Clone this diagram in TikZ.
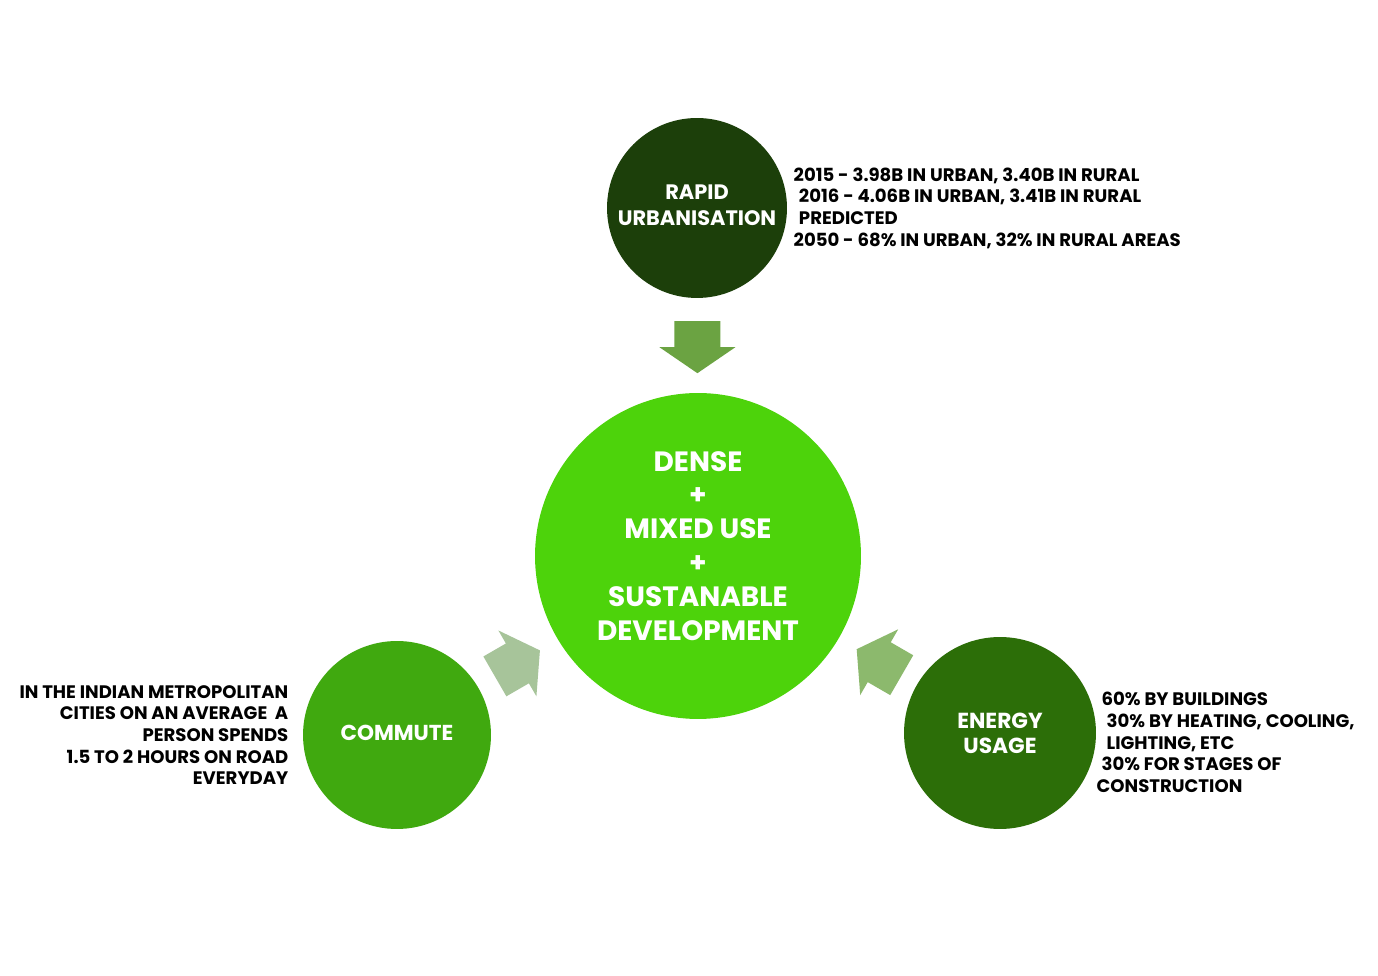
\documentclass[tikz,border=0pt]{standalone}
\usepackage{fontspec}
\setmainfont{Poppins}
\usetikzlibrary{positioning,calc}
\definecolor{UrbDark}{RGB}{28,63,10}
\definecolor{HubGreen}{RGB}{77,211,11}
\definecolor{CommGreen}{RGB}{64,169,15}
\definecolor{EnerGreen}{RGB}{44,110,8}
\definecolor{ArrMid}{RGB}{107,163,66}
\definecolor{ArrPale}{RGB}{167,196,154}
\definecolor{ArrSoft}{RGB}{140,185,109}
\tikzset{
  bubble/.style={circle,inner sep=0pt,text=white,align=center},
  note/.style={inner sep=0pt,font=\bfseries\fontsize{10.3}{12.35}\selectfont},
  pics/flowarrow/.style={code={
    \fill[#1] (-26,-23) -- (0,-23) -- (0,-38) -- (26,0) -- (0,38) -- (0,23) -- (-26,23) -- cycle;}},
}

\begin{document}
\begin{tikzpicture}[x=0.02cm,y=0.02cm]
        \fill[white] (0,0) rectangle (1378,976);
        \node[bubble,fill=UrbDark,minimum size=3.6cm] (rapid) at (697,768) {};
        \node[bubble,fill=HubGreen,minimum size=6.52cm] (hub) at (698,420) {};
        \node[bubble,fill=CommGreen,minimum size=3.76cm,font=\bfseries\fontsize{12.3}{14.2}\selectfont] (commute) at (397,241) {\raisebox{2pt}{COMMUTE}};
        \node[bubble,fill=EnerGreen,minimum size=3.84cm,font=\bfseries\fontsize{12.4}{14.2}\selectfont] (energy) at (1000,243) {ENERGY\\USAGE};
        \node[bubble,font=\bfseries\fontsize{11.9}{14.8}\selectfont] (rapidtext) at ($(rapid)+(0,3)$) {RAPID\\URBANISATION};
        \node[bubble,font=\bfseries\fontsize{15.9}{19.3}\selectfont] (hubtext) at ($(hub)+(0,10)$) {DENSE\\+\\MIXED USE\\+\\SUSTANABLE\\DEVELOPMENT};
        \pic[rotate=-90] at ($(rapid)!0.4!(hub)$) {flowarrow=ArrMid};
        \pic[rotate=30] at ($(commute)!0.4!(hub)$) {flowarrow=ArrPale};
        \pic[rotate=150] at ($(energy)!0.4!(hub)$) {flowarrow=ArrSoft};
        \node[note,align=left,right=0.12cm of rapid] (urbnote) {2015 - 3.98B IN URBAN, 3.40B IN RURAL\\
          \hspace*{3pt}2016 - 4.06B IN URBAN, 3.41B IN RURAL\\
          \hspace*{3pt}PREDICTED\\
          2050 - 68\% IN URBAN, 32\% IN RURAL AREAS};
        \node[note,align=right,left=0.28cm of commute] (commnote) {IN THE INDIAN METROPOLITAN\\
          CITIES ON AN AVERAGE\ \ A\\
          PERSON SPENDS\\
          1.5 TO 2 HOURS ON ROAD\\
          EVERYDAY};
        \node[note,align=left,right=0cm of energy,yshift=-0.19cm] (enernote) {\hspace*{2.8pt}60\% BY BUILDINGS\\
          \hspace*{5.7pt}30\% BY HEATING, COOLING,\\
          \hspace*{5.7pt}LIGHTING, ETC\\
          \hspace*{2.8pt}30\% FOR STAGES OF\\
          CONSTRUCTION};
      \end{tikzpicture}
\end{document}
